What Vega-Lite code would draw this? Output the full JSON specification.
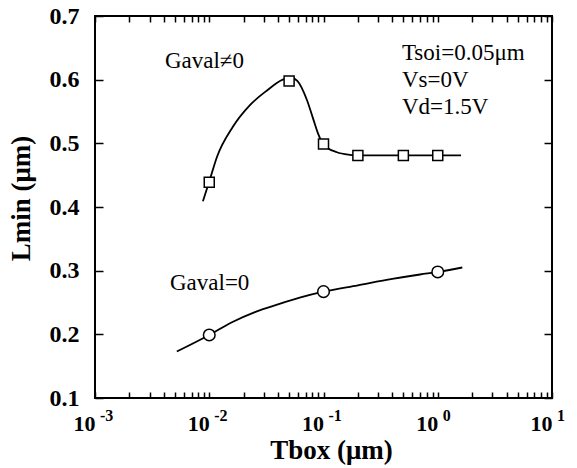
{
  "$schema": "https://vega.github.io/schema/vega-lite/v6.json",
  "width": 457,
  "height": 382,
  "autosize": {"type": "none"},
  "padding": {"left": 95, "top": 16, "right": 25, "bottom": 70},
  "background": "white",
  "config": {
    "view": {"stroke": "black", "strokeWidth": 2},
    "font": "Liberation Serif",
    "axis": {"grid": false, "domain": false, "tickColor": "black", "tickWidth": 1.5, "labelColor": "black", "titleColor": "black", "labelFont": "Liberation Serif", "titleFont": "Liberation Serif"}
  },
  "datasets": {
    "curve": [
      {"series": "Gaval≠0", "x": 0.0088, "y": 0.409},
      {"series": "Gaval≠0", "x": 0.01, "y": 0.44},
      {"series": "Gaval≠0", "x": 0.0117, "y": 0.479},
      {"series": "Gaval≠0", "x": 0.0161, "y": 0.526},
      {"series": "Gaval≠0", "x": 0.0227, "y": 0.56},
      {"series": "Gaval≠0", "x": 0.032, "y": 0.583},
      {"series": "Gaval≠0", "x": 0.044, "y": 0.6},
      {"series": "Gaval≠0", "x": 0.052, "y": 0.603},
      {"series": "Gaval≠0", "x": 0.059, "y": 0.598},
      {"series": "Gaval≠0", "x": 0.0716, "y": 0.568},
      {"series": "Gaval≠0", "x": 0.0807, "y": 0.54},
      {"series": "Gaval≠0", "x": 0.0893, "y": 0.516},
      {"series": "Gaval≠0", "x": 0.1, "y": 0.498},
      {"series": "Gaval≠0", "x": 0.131, "y": 0.486},
      {"series": "Gaval≠0", "x": 0.17, "y": 0.482},
      {"series": "Gaval≠0", "x": 0.2, "y": 0.481},
      {"series": "Gaval≠0", "x": 1.6, "y": 0.481},
      {"series": "Gaval=0", "x": 0.0052, "y": 0.173},
      {"series": "Gaval=0", "x": 0.01, "y": 0.199},
      {"series": "Gaval=0", "x": 0.0158, "y": 0.219},
      {"series": "Gaval=0", "x": 0.0251, "y": 0.235},
      {"series": "Gaval=0", "x": 0.0398, "y": 0.247},
      {"series": "Gaval=0", "x": 0.063, "y": 0.258},
      {"series": "Gaval=0", "x": 0.1, "y": 0.267},
      {"series": "Gaval=0", "x": 0.2, "y": 0.277},
      {"series": "Gaval=0", "x": 0.4, "y": 0.287},
      {"series": "Gaval=0", "x": 0.7, "y": 0.294},
      {"series": "Gaval=0", "x": 1.0, "y": 0.298},
      {"series": "Gaval=0", "x": 1.64, "y": 0.305}
    ],
    "points": [
      {"series": "Gaval≠0", "x": 0.01, "y": 0.439},
      {"series": "Gaval≠0", "x": 0.05, "y": 0.598},
      {"series": "Gaval≠0", "x": 0.1, "y": 0.499},
      {"series": "Gaval≠0", "x": 0.2, "y": 0.481},
      {"series": "Gaval≠0", "x": 0.5, "y": 0.481},
      {"series": "Gaval≠0", "x": 1.0, "y": 0.481},
      {"series": "Gaval=0", "x": 0.01, "y": 0.199},
      {"series": "Gaval=0", "x": 0.1, "y": 0.267},
      {"series": "Gaval=0", "x": 1.0, "y": 0.298}
    ],
    "notes": [
      {"x": 0.00409, "y": 0.6183, "label": "Gaval≠0"},
      {"x": 0.00453, "y": 0.2697, "label": "Gaval=0"},
      {"x": 0.4853, "y": 0.6309, "label": "Tsoi=0.05μm"},
      {"x": 0.4853, "y": 0.589, "label": "Vs=0V"},
      {"x": 0.4853, "y": 0.546, "label": "Vd=1.5V"}
    ],
    "exps": [
      {"x": 0.001, "e": "-3"},
      {"x": 0.01, "e": "-2"},
      {"x": 0.1, "e": "-1"},
      {"x": 1, "e": "0"},
      {"x": 10, "e": "1"}
    ]
  },
  "layer": [
    {
      "data": {"name": "curve"},
      "mark": {"type": "line", "interpolate": "monotone", "color": "black", "strokeWidth": 1.8},
      "encoding": {
        "x": {"field": "x", "type": "quantitative",
          "scale": {"type": "log", "domain": [0.001, 10], "nice": false},
          "axis": {"orient": "bottom",
            "values": [0.001,0.002,0.003,0.004,0.005,0.006,0.007,0.008,0.009,0.01,0.02,0.03,0.04,0.05,0.06,0.07,0.08,0.09,0.1,0.2,0.3,0.4,0.5,0.6,0.7,0.8,0.9,1,2,3,4,5,6,7,8,9,10],
            "labelExpr": "abs(log(datum.value)/LN10 - round(log(datum.value)/LN10)) < 0.000001 ? '10' : ''",
            "tickSize": -6, "labelFontSize": 22, "labelFontWeight": "bold",
            "labelBaseline": "alphabetic", "labelAlign": "right", "labelPadding": 38,
            "labelFlush": false, "labelOverlap": false,
            "title": "Tbox (μm)", "titleFontSize": 27, "titleFontWeight": "bold",
            "titleX": 236, "titleY": 60, "titleBaseline": "alphabetic", "titleAlign": "center"}},
        "y": {"field": "y", "type": "quantitative",
          "scale": {"domain": [0.1, 0.7], "nice": false, "zero": false},
          "axis": {"orient": "left", "values": [0.1,0.2,0.3,0.4,0.5,0.6,0.7], "format": ".1f",
            "tickSize": -8, "labelFontSize": 24, "labelFontWeight": "bold", "labelPadding": 24,
            "labelBaseline": "middle", "labelFlush": false, "labelOverlap": false,
            "title": "Lmin (μm)", "titleFontSize": 27, "titleFontWeight": "bold",
            "titleX": -66, "titleY": 182, "titleAngle": -90, "titleBaseline": "alphabetic", "titleAlign": "center"}},
        "detail": {"field": "series"}
      }
    },
    {
      "data": {"name": "points"},
      "mark": {"type": "point", "filled": false, "fill": "white", "fillOpacity": 1, "stroke": "black", "strokeWidth": 1.5, "opacity": 1},
      "encoding": {
        "x": {"field": "x", "type": "quantitative",
          "scale": {"type": "log", "domain": [0.001, 10], "nice": false},
          "axis": {"orient": "top",
            "values": [0.001,0.002,0.003,0.004,0.005,0.006,0.007,0.008,0.009,0.01,0.02,0.03,0.04,0.05,0.06,0.07,0.08,0.09,0.1,0.2,0.3,0.4,0.5,0.6,0.7,0.8,0.9,1,2,3,4,5,6,7,8,9,10],
            "labels": false, "tickSize": -6, "title": null}},
        "y": {"field": "y", "type": "quantitative",
          "scale": {"domain": [0.1, 0.7], "nice": false, "zero": false},
          "axis": {"orient": "right", "values": [0.1,0.2,0.3,0.4,0.5,0.6,0.7], "labels": false, "tickSize": -8, "title": null}},
        "shape": {"field": "series", "type": "nominal",
          "scale": {"domain": ["Gaval≠0", "Gaval=0"], "range": ["square", "circle"]}, "legend": null},
        "size": {"field": "series", "type": "nominal",
          "scale": {"domain": ["Gaval≠0", "Gaval=0"], "range": [100, 135]}, "legend": null}
      }
    },
    {
      "data": {"name": "notes"},
      "mark": {"type": "text", "align": "left", "baseline": "alphabetic", "fontSize": 23, "font": "Liberation Serif", "color": "black"},
      "encoding": {
        "x": {"field": "x", "type": "quantitative", "scale": {"type": "log", "domain": [0.001, 10], "nice": false}, "axis": null},
        "y": {"field": "y", "type": "quantitative", "scale": {"domain": [0.1, 0.7], "nice": false, "zero": false}, "axis": null},
        "text": {"field": "label"}
      }
    },
    {
      "data": {"name": "exps"},
      "mark": {"type": "text", "align": "left", "baseline": "alphabetic", "dx": 5, "dy": 23, "fontSize": 16, "fontWeight": "bold", "font": "Liberation Serif", "color": "black"},
      "encoding": {
        "x": {"field": "x", "type": "quantitative", "scale": {"type": "log", "domain": [0.001, 10], "nice": false}, "axis": null},
        "y": {"datum": 0.1, "type": "quantitative", "scale": {"domain": [0.1, 0.7], "nice": false, "zero": false}, "axis": null},
        "text": {"field": "e"}
      }
    }
  ],
  "resolve": {"axis": {"x": "independent", "y": "independent"}}
}
